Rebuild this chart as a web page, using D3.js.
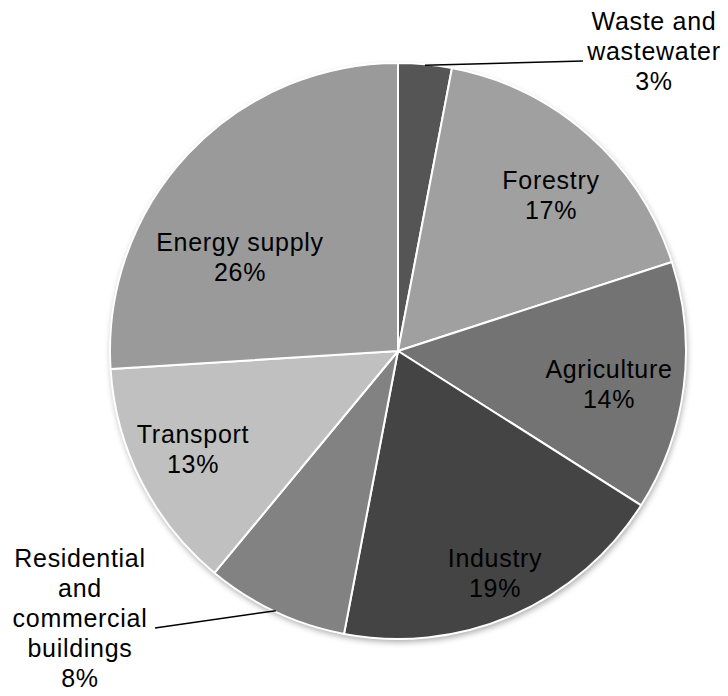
<!DOCTYPE html>
<html>
<head>
<meta charset="utf-8">
<script src="https://cdn.jsdelivr.net/npm/d3@7"></script>
<style>
  html, body { margin: 0; padding: 0; background: #fff; }
  svg { display: block; }
  text { font-family: "Liberation Sans", Arial, sans-serif; font-size: 25px; fill: #000; letter-spacing: 0.7px; }
</style>
</head>
<body>
<svg id="chart" width="728" height="696"></svg>
<script>
// Data
const categories = ["Waste and wastewater", "Forestry", "Agriculture", "Industry",
  "Residential and commercial buildings", "Transport", "Energy supply"];
const values = [3, 17, 14, 19, 8, 13, 26];
const labelLines = [
  ["Waste and", "wastewater", "3%"],
  ["Forestry", "17%"],
  ["Agriculture", "14%"],
  ["Industry", "19%"],
  ["Residential", "and", "commercial", "buildings", "8%"],
  ["Transport", "13%"],
  ["Energy supply", "26%"]
];
const colors = ["#555555", "#a0a0a0", "#737373", "#444444", "#828282", "#c0c0c0", "#9a9a9a"];

// Layout (label anchor: center x, first baseline y)
const cx = 398, cy = 351, R = 288;
const labelAnchors = [
  [654, 30], [551, 189], [609, 378], [495, 567], [80, 567], [193, 443], [240, 251]
];
const lineHeight = 30;
const leaders = { 0: [583, 61], 4: [155, 628] };

const svg = d3.select("#chart");
const defs = svg.append("defs");
const f = defs.append("filter").attr("id", "shadow").attr("x", "-10%").attr("y", "-10%").attr("width", "120%").attr("height", "120%");
f.append("feDropShadow").attr("dx", 1).attr("dy", 3).attr("stdDeviation", 3).attr("flood-color", "#000").attr("flood-opacity", 0.35);

const pie = d3.pie().sort(null).value(d => d)(values);
const arc = d3.arc().innerRadius(0).outerRadius(R);
const g = svg.append("g").attr("transform", `translate(${cx},${cy})`);

g.append("circle").attr("r", R).attr("fill", "#fff").attr("filter", "url(#shadow)");

g.selectAll("path.slice").data(pie).join("path")
  .attr("class", "slice")
  .attr("d", arc)
  .attr("fill", (d, i) => colors[i])
  .attr("stroke", "#fff")
  .attr("stroke-width", 2)
  .attr("stroke-linejoin", "round");

// Leader lines
const arcEdge = d3.arc().innerRadius(R - 2).outerRadius(R - 2);
Object.keys(leaders).forEach(k => {
  const i = +k;
  const d = pie[i];
  const a = (d.startAngle + d.endAngle) / 2;
  const x1 = cx + Math.sin(a) * (R - 1);
  const y1 = cy - Math.cos(a) * (R - 1);
  svg.append("line")
    .attr("x1", x1).attr("y1", y1)
    .attr("x2", leaders[k][0]).attr("y2", leaders[k][1])
    .attr("stroke", "#000").attr("stroke-width", 1.6);
});

// Labels
labelLines.forEach((lines, i) => {
  const t = svg.append("text").attr("text-anchor", "middle");
  lines.forEach((ln, j) => {
    t.append("tspan").attr("x", labelAnchors[i][0]).attr("y", labelAnchors[i][1] + j * lineHeight).text(ln);
  });
});
</script>
</body>
</html>
